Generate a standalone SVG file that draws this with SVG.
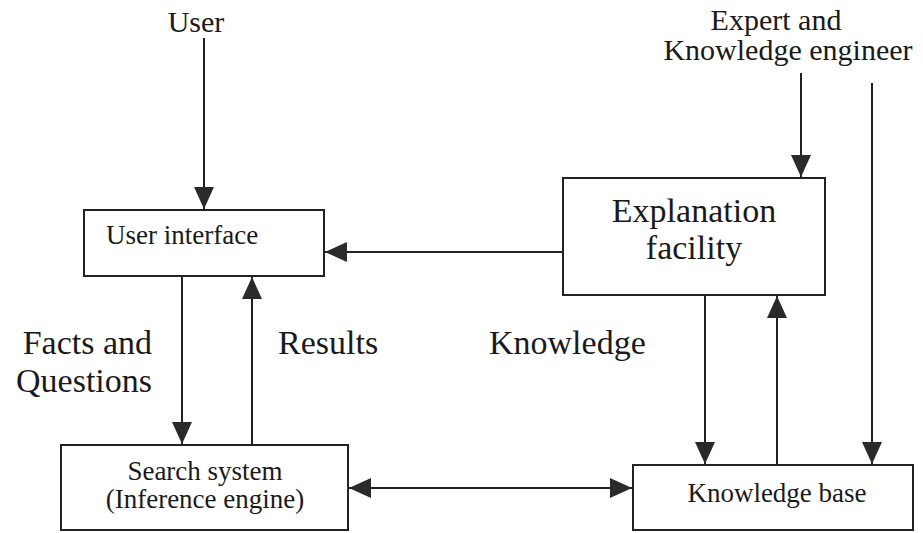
<svg xmlns="http://www.w3.org/2000/svg" width="923" height="533" viewBox="0 0 923 533">
  <style>
    .box { fill: #ffffff; stroke: #222222; stroke-width: 2; }
    .wire { fill: none; stroke: #222222; stroke-width: 2; }
    .lbl { font-family: "Liberation Serif", "DejaVu Serif", serif; fill: #1a1a1a; }
    .top { font-size: 30px; }
    .side { font-size: 34px; }
    .inner { font-size: 27px; }
  </style>
  <defs>
    <marker id="head" viewBox="0 0 22 20" refX="22" refY="10" markerWidth="22" markerHeight="20" markerUnits="userSpaceOnUse" orient="auto-start-reverse">
      <path d="M0,0 L22,10 L0,20 z" fill="#2a2a2a"/>
    </marker>
  </defs>

  <rect width="923" height="533" fill="#ffffff"/>

  <!-- free-standing labels -->
  <g id="labels" class="lbl">
    <text class="top" x="196" y="32" text-anchor="middle">User</text>
    <text class="top" x="776" y="30" text-anchor="middle">Expert and</text>
    <text class="top" x="788" y="60" text-anchor="middle">Knowledge engineer</text>
    <text class="side" x="152" y="354" text-anchor="end">Facts and</text>
    <text class="side" x="152" y="392" text-anchor="end">Questions</text>
    <text class="side" x="278" y="354">Results</text>
    <text class="side" x="489" y="354">Knowledge</text>
  </g>

  <!-- connectors -->
  <g id="connectors" class="wire">
    <line x1="204" y1="38" x2="204" y2="209" marker-end="url(#head)"/>
    <line x1="801" y1="73" x2="801" y2="177" marker-end="url(#head)"/>
    <line x1="872" y1="83" x2="872" y2="464" marker-end="url(#head)"/>
    <line x1="563" y1="252" x2="325" y2="252" marker-end="url(#head)"/>
    <line x1="182" y1="276" x2="182" y2="444" marker-end="url(#head)"/>
    <line x1="252" y1="445" x2="252" y2="277" marker-end="url(#head)"/>
    <line x1="705" y1="295" x2="705" y2="464" marker-end="url(#head)"/>
    <line x1="777" y1="465" x2="777" y2="296" marker-end="url(#head)"/>
    <line x1="349" y1="488" x2="632" y2="488" marker-start="url(#head)" marker-end="url(#head)"/>
  </g>

  <g id="user-interface">
    <rect class="box" x="84" y="210" width="240" height="66"/>
    <text class="lbl inner" x="106" y="244">User interface</text>
  </g>

  <g id="explanation-facility">
    <rect class="box" x="563" y="178" width="262" height="117"/>
    <text class="lbl side" x="694" y="222" text-anchor="middle">Explanation</text>
    <text class="lbl side" x="694" y="259" text-anchor="middle">facility</text>
  </g>

  <g id="search-system">
    <rect class="box" x="61" y="445" width="287" height="85"/>
    <text class="lbl inner" x="205" y="480" text-anchor="middle">Search system</text>
    <text class="lbl inner" x="205" y="508" text-anchor="middle">(Inference engine)</text>
  </g>

  <g id="knowledge-base">
    <rect class="box" x="633" y="465" width="280" height="65"/>
    <text class="lbl inner" x="777" y="502" text-anchor="middle">Knowledge base</text>
  </g>
</svg>
